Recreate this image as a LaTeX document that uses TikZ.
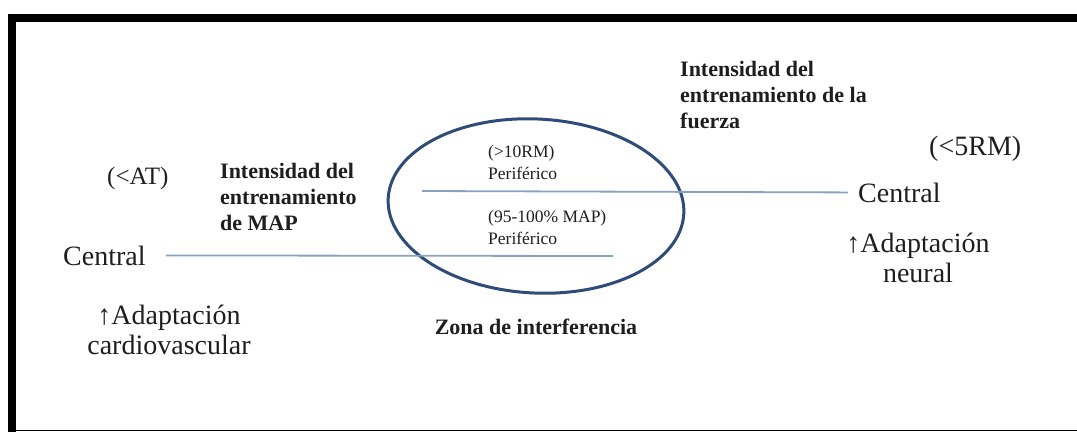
\documentclass[tikz,border=0pt]{standalone}
\usepackage{fontspec}
\setmainfont{Liberation Serif}
\usetikzlibrary{shapes.geometric}
\definecolor{txt}{HTML}{1E1E1E}
\definecolor{ellblue}{HTML}{2F4B78}
\definecolor{lineblue}{HTML}{8AA2C2}
\begin{document}
\begin{tikzpicture}[x=1pt,y=-1pt,
  big/.style={font=\fontsize{28}{30}\selectfont, text=txt, inner sep=0pt},
  bigc/.style={big, align=center},
  boldtxt/.style={font=\bfseries\fontsize{22}{26}\selectfont, text=txt, align=left, inner sep=0pt},
  smalltxt/.style={font=\fontsize{17.5}{22}\selectfont, text=txt, align=left, inner sep=0pt},
  ln/.style={draw=lineblue, line width=1.8pt},
  zone/.style={draw=ellblue, line width=3pt, ellipse, inner sep=0pt}
]
\useasboundingbox (0,0) rectangle (1077,432);
% frame
\fill[black] (8,14) rectangle (1077,22);
\fill[black] (8,14) rectangle (16,432);
\draw[black, line width=1.5pt] (8,430.5) -- (1077,430.5);

% interference ellipse
\node[zone, minimum width=296pt, minimum height=174pt, rotate=-3] (zona) at (536,206) {};

% left side (MAP)
\node[big, anchor=base west, font=\fontsize{25}{30}\selectfont] (atL) at (107,184) {(<AT)};
\node[big, anchor=base west, inner xsep=0pt] (cL) at (63,265) {Central};
\node[bigc, anchor=north] (adL) at (169,305) {↑Adaptación\\cardiovascular};
\node[boldtxt, anchor=north west] (mapL) at (220,163) {Intensidad del\\entrenamiento\\de MAP};

% right side (fuerza)
\node[big, anchor=base west] (rmR) at (929,155) {(<5RM)};
\node[big, anchor=base west] (cR) at (858,202) {Central};
\node[bigc, anchor=north] (adR) at (918,233) {↑Adaptación\\neural};
\node[boldtxt, anchor=north west] (fzR) at (680,61) {Intensidad del\\entrenamiento de la\\fuerza};

% inside ellipse
\node[smalltxt, anchor=north west] (p1) at (488,145) {(>10RM)\\Periférico};
\node[smalltxt, anchor=north west] (p2) at (488,210) {(95-100\% MAP)\\Periférico};

% zone label
\node[boldtxt, anchor=base] (zl) at (536,334) {Zona de interferencia};

% lines
\coordinate (u1) at (422,191);
\coordinate (l2) at (613,256);
\draw[ln] (u1) -- ([xshift=-10pt]cR.west);
\draw[ln] ([xshift=20pt]cL.east) -- (l2);
\end{tikzpicture}
\end{document}
